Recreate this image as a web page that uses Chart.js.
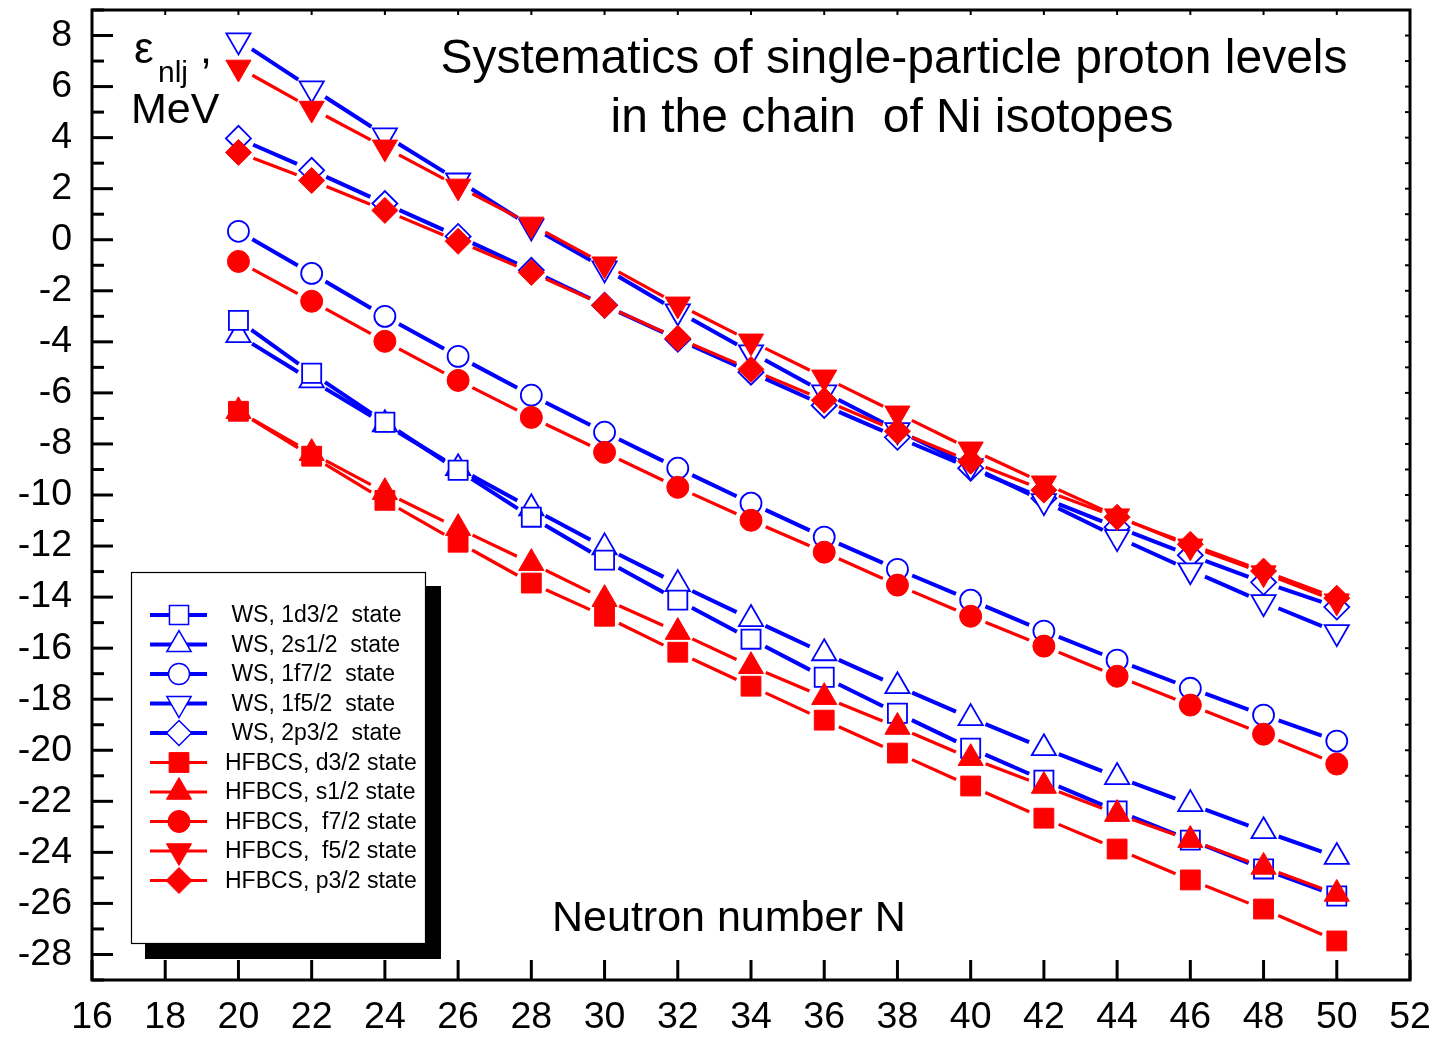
<!DOCTYPE html>
<html>
<head>
<meta charset="utf-8">
<script src="https://cdn.jsdelivr.net/npm/chart.js@4.4.1/dist/chart.umd.min.js"></script>
<style>
  html, body { margin: 0; padding: 0; background: #fff; }
  #chart { display: block; }
</style>
</head>
<body>
<canvas id="chart" width="1437" height="1039"></canvas>
<script>
const neutronNumbers = [20, 22, 24, 26, 28, 30, 32, 34, 36, 38, 40, 42, 44, 46, 48, 50];

// Woods-Saxon levels (open symbols)
const ws1d32 = [-3.16, -5.23, -7.15, -9.03, -10.87, -12.55, -14.12, -15.65, -17.14, -18.55, -19.92, -21.17, -22.38, -23.52, -24.65, -25.71];
const ws2s12 = [-3.74, -5.51, -7.23, -8.95, -10.52, -12.05, -13.49, -14.86, -16.2, -17.49, -18.74, -19.92, -21.05, -22.11, -23.17, -24.18];
const ws1f72 = [0.33, -1.32, -3.0, -4.57, -6.09, -7.54, -8.95, -10.32, -11.65, -12.91, -14.12, -15.33, -16.47, -17.57, -18.62, -19.64];
const ws1f52 = [7.81, 5.93, 4.09, 2.32, 0.52, -1.12, -2.81, -4.41, -5.98, -7.46, -8.87, -10.24, -11.65, -12.95, -14.2, -15.37];
const ws2p32 = [3.97, 2.72, 1.42, 0.13, -1.2, -2.57, -3.9, -5.19, -6.49, -7.74, -8.95, -10.13, -11.26, -12.36, -13.42, -14.39];

// HFBCS levels (filled symbols)
const hfD32 = [-6.72, -8.48, -10.21, -11.85, -13.45, -14.75, -16.16, -17.49, -18.82, -20.11, -21.4, -22.66, -23.87, -25.08, -26.22, -27.47];
const hfS12 = [-6.72, -8.36, -9.89, -11.3, -12.67, -14.08, -15.37, -16.71, -17.92, -19.09, -20.31, -21.4, -22.5, -23.52, -24.57, -25.63];
const hfF72 = [-0.85, -2.41, -3.98, -5.51, -6.96, -8.33, -9.7, -10.99, -12.24, -13.53, -14.75, -15.92, -17.1, -18.23, -19.37, -20.54];
const hfF52 = [6.75, 5.14, 3.62, 2.09, 0.6, -0.96, -2.53, -3.98, -5.39, -6.8, -8.21, -9.54, -10.83, -12.01, -13.06, -14.16];
const hfP32 = [3.42, 2.32, 1.15, -0.06, -1.28, -2.57, -3.86, -5.08, -6.29, -7.5, -8.68, -9.81, -10.87, -11.93, -12.98, -14.04];

const seriesLabels = [
  " WS, 1d3/2  state", " WS, 2s1/2  state", " WS, 1f7/2  state", " WS, 1f5/2  state", " WS, 2p3/2  state",
  "HFBCS, d3/2 state", "HFBCS, s1/2 state", "HFBCS,  f7/2 state", "HFBCS,  f5/2 state", "HFBCS, p3/2 state"
];

const xTicks = [16, 18, 20, 22, 24, 26, 28, 30, 32, 34, 36, 38, 40, 42, 44, 46, 48, 50, 52];
const yTicks = [8, 6, 4, 2, 0, -2, -4, -6, -8, -10, -12, -14, -16, -18, -20, -22, -24, -26, -28];

const FONT = '"Liberation Sans", Arial, sans-serif';
const BLUE = "#0000ff";
const RED = "#ff0000";

// shape -> chart.js point style, radius, rotation
const shapes = {
  square: { style: "rect", r: 13.5, rot: 0 },
  up: { style: "triangle", r: 14, rot: 0 },
  circle: { style: "circle", r: 10.5, rot: 0 },
  down: { style: "triangle", r: 14, rot: 180 },
  diamond: { style: "rectRot", r: 12.5, rot: 0 }
};

// Origin-style break of the line around each symbol
const LINE_GAP = 16;

function segLength(ctx) {
  const dx = ctx.p1.x - ctx.p0.x;
  const dy = ctx.p1.y - ctx.p0.y;
  return Math.sqrt(dx * dx + dy * dy);
}

function makeSeries(label, values, shape, filled) {
  const s = shapes[shape];
  const color = filled ? RED : BLUE;
  return {
    label: label,
    data: neutronNumbers.map((n, i) => ({ x: n, y: values[i] })),
    borderColor: color,
    borderWidth: filled ? 3.2 : 4,
    pointStyle: s.style,
    pointRadius: filled ? s.r + 0.5 : s.r,
    pointRotation: s.rot,
    pointBorderWidth: filled ? 1 : 1.8,
    pointBorderColor: color,
    pointBackgroundColor: filled ? RED : "#ffffff",
    tension: 0,
    order: filled ? 0 : 1,
    segment: {
      borderDash: (ctx) => {
        const len = segLength(ctx);
        return [Math.max(len - 2 * LINE_GAP, 0), 2 * LINE_GAP];
      },
      borderDashOffset: () => -LINE_GAP
    },
    shape: shape,
    filled: filled
  };
}

const datasets = [
  makeSeries(seriesLabels[0], ws1d32, "square", false),
  makeSeries(seriesLabels[1], ws2s12, "up", false),
  makeSeries(seriesLabels[2], ws1f72, "circle", false),
  makeSeries(seriesLabels[3], ws1f52, "down", false),
  makeSeries(seriesLabels[4], ws2p32, "diamond", false),
  makeSeries(seriesLabels[5], hfD32, "square", true),
  makeSeries(seriesLabels[6], hfS12, "up", true),
  makeSeries(seriesLabels[7], hfF72, "circle", true),
  makeSeries(seriesLabels[8], hfF52, "down", true),
  makeSeries(seriesLabels[9], hfP32, "diamond", true)
];

function drawMarker(ctx, shape, x, y, r, rot, filled, color) {
  ctx.beginPath();
  if (shape === "circle") {
    ctx.arc(x, y, r, 0, Math.PI * 2);
  } else if (shape === "square") {
    const h = r * Math.SQRT1_2;
    ctx.rect(x - h, y - h, 2 * h, 2 * h);
  } else if (shape === "diamond") {
    ctx.moveTo(x - r, y);
    ctx.lineTo(x, y - r);
    ctx.lineTo(x + r, y);
    ctx.lineTo(x, y + r);
    ctx.closePath();
  } else {
    let a = rot * Math.PI / 180;
    ctx.moveTo(x + Math.sin(a) * r, y - Math.cos(a) * r);
    a += 2 * Math.PI / 3;
    ctx.lineTo(x + Math.sin(a) * r, y - Math.cos(a) * r);
    a += 2 * Math.PI / 3;
    ctx.lineTo(x + Math.sin(a) * r, y - Math.cos(a) * r);
    ctx.closePath();
  }
  ctx.fillStyle = filled ? color : "#ffffff";
  ctx.fill();
  ctx.lineWidth = filled ? 1 : 1.5;
  ctx.strokeStyle = color;
  ctx.stroke();
}

const framePlugin = {
  id: "frame",
  afterDraw(chart) {
    const ctx = chart.ctx;
    const area = chart.chartArea;
    const xs = chart.scales.x;
    const ys = chart.scales.y;
    ctx.save();
    ctx.setLineDash([]);
    ctx.strokeStyle = "#000";
    ctx.lineCap = "butt";

    // ticks on the left (inward), majors on even values
    ctx.lineWidth = 3;
    for (let v = -29; v <= 9; v++) {
      const y = ys.getPixelForValue(v);
      const len = v % 2 === 0 ? 21 : 12;
      ctx.beginPath();
      ctx.moveTo(area.left, y);
      ctx.lineTo(area.left + len, y);
      ctx.stroke();
    }
    // bottom ticks (inward)
    xTicks.forEach((v) => {
      const x = xs.getPixelForValue(v);
      ctx.beginPath();
      ctx.moveTo(x, area.bottom);
      ctx.lineTo(x, area.bottom - 20);
      ctx.stroke();
    });
    // small ticks on top and right
    ctx.lineWidth = 2;
    xTicks.forEach((v) => {
      const x = xs.getPixelForValue(v);
      ctx.beginPath();
      ctx.moveTo(x, area.top);
      ctx.lineTo(x, area.top + 5);
      ctx.stroke();
    });
    for (let v = -29; v <= 9; v++) {
      const y = ys.getPixelForValue(v);
      ctx.beginPath();
      ctx.moveTo(area.right, y);
      ctx.lineTo(area.right - 5, y);
      ctx.stroke();
    }
    // frame
    ctx.lineWidth = 3;
    ctx.strokeRect(area.left, area.top, area.right - area.left, area.bottom - area.top);

    // titles
    ctx.fillStyle = "#000";
    ctx.textBaseline = "alphabetic";
    ctx.textAlign = "center";
    ctx.font = "48px " + FONT;
    ctx.fillText("Systematics of single-particle proton levels", 894, 73);
    ctx.fillText("in the chain  of Ni isotopes", 892, 132);

    ctx.textAlign = "left";
    ctx.font = "43px " + FONT;
    ctx.fillText("Neutron number N", 552, 931);
    ctx.fillText("MeV", 131, 123);
    ctx.font = "44px " + FONT;
    ctx.fillText("\u03b5", 134, 63);
    ctx.font = "30px " + FONT;
    ctx.fillText("nlj", 158, 82);
    ctx.font = "43px " + FONT;
    ctx.fillText(",", 200, 63);

    // legend box with shadow
    ctx.fillStyle = "#000";
    ctx.fillRect(145, 586, 296, 373);
    ctx.fillStyle = "#fff";
    ctx.fillRect(131, 572, 295, 372);
    ctx.lineWidth = 1.2;
    ctx.strokeStyle = "#000";
    ctx.strokeRect(131.5, 572.5, 294, 371);

    const rowY0 = 615;
    const rowStep = 29.5;
    chart.data.datasets.forEach((ds, i) => {
      const y = rowY0 + i * rowStep;
      const s = shapes[ds.shape];
      ctx.strokeStyle = ds.borderColor;
      ctx.lineWidth = ds.borderWidth;
      ctx.beginPath();
      ctx.moveTo(150, y);
      ctx.lineTo(207, y);
      ctx.stroke();
      drawMarker(ctx, ds.shape, 179, y, ds.pointRadius, s.rot, ds.filled, ds.borderColor);
      ctx.fillStyle = "#000";
      ctx.font = "23px " + FONT;
      ctx.textBaseline = "middle";
      ctx.fillText(ds.label, 225, y + 1);
    });
    ctx.restore();
  }
};

new Chart(document.getElementById("chart"), {
  type: "line",
  data: { datasets: datasets },
  options: {
    responsive: false,
    animation: false,
    devicePixelRatio: 1,
    layout: { autoPadding: false, padding: { top: 10, right: 27, left: 0, bottom: 0 } },
    plugins: {
      legend: { display: false },
      tooltip: { enabled: false },
      title: { display: false }
    },
    scales: {
      x: {
        type: "linear",
        min: 16,
        max: 52,
        grid: { display: false, drawTicks: false },
        border: { display: false },
        afterBuildTicks: (scale) => { scale.ticks = xTicks.map((v) => ({ value: v })); },
        afterFit: (scale) => {
          scale.height = 59;
          scale.paddingLeft = 0;
          scale.paddingRight = 0;
        },
        ticks: {
          color: "#000",
          padding: 15,
          maxRotation: 0,
          autoSkip: false,
          font: { family: FONT, size: 37.5 }
        }
      },
      y: {
        type: "linear",
        min: -29,
        max: 9,
        grid: { display: false, drawTicks: false },
        border: { display: false },
        afterBuildTicks: (scale) => { scale.ticks = yTicks.map((v) => ({ value: v })); },
        afterFit: (scale) => {
          scale.width = 92;
          scale.paddingTop = 0;
          scale.paddingBottom = 0;
        },
        ticks: {
          color: "#000",
          padding: 20,
          autoSkip: false,
          font: { family: FONT, size: 37.5 }
        }
      }
    }
  },
  plugins: [framePlugin]
});
</script>
</body>
</html>
